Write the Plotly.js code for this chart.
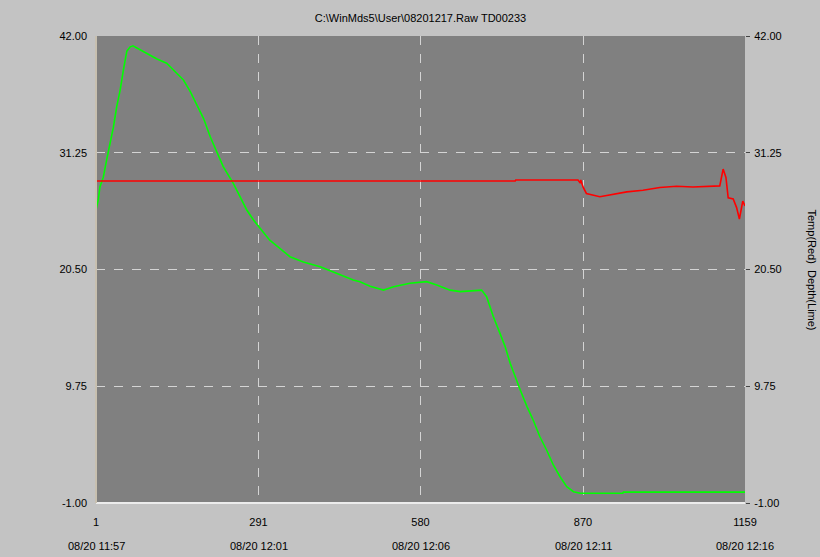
<!DOCTYPE html>
<html>
<head>
<meta charset="utf-8">
<script src="https://cdn.plot.ly/plotly-3.0.1.min.js"></script>
<style>html,body{margin:0;padding:0;background:#c3c3c3;}#chart{width:820px;height:557px;}</style>
</head>
<body>
<div id="chart"></div>
<script>
// Depth (lime) series: sample index and value
const depthIdx = [1,5,8,14,20,26,32,38,44,50,56,62,67,74,91,109,127,145,157,169,182,193,205,216,228,246,258,270,282,294,311,329,347,371,401,430,460,472,490,514,532,561,591,609,633,651,674,689,698,710,722,731,740,749,758,770,781,793,805,817,829,841,853,865,900,941,942,1000,1040,1080,1120,1159];
const depthVal = [26.0,26.9,28.1,29.0,30.6,32.1,33.6,35.5,37.0,38.9,40.6,41.0,41.1,40.9,40.4,39.9,39.5,38.6,37.95,36.9,35.6,34.4,32.7,31.35,29.97,28.44,27.2,25.98,25.06,24.3,23.2,22.45,21.68,21.2,20.76,20.15,19.53,19.38,18.95,18.6,18.92,19.23,19.38,19.07,18.6,18.46,18.55,18.6,18.0,16.15,14.6,13.4,11.86,10.6,9.4,7.87,6.64,5.1,3.88,2.5,1.42,0.5,0.04,-0.1,-0.1,-0.1,0.0,0.0,0.0,0.0,0.0,0.0];

// Temperature (red) series
const tempIdx = [1,749,750,861,865,866,870,876,900,918,936,948,977,1007,1037,1066,1114,1120,1125,1129,1138,1144,1149,1155,1159];
const tempVal = [28.65,28.65,28.74,28.74,28.45,28.74,28.1,27.5,27.2,27.35,27.5,27.65,27.8,28.05,28.17,28.1,28.2,29.75,28.98,27.1,27.0,26.2,25.15,26.8,26.35];

// Axis ticks
const yTicks = [-1, 9.75, 20.5, 31.25, 42];
const yTickText = ["-1.00", "9.75", "20.50", "31.25", "42.00"];
const xTicks = [1, 291, 580, 870, 1159];
const xTickText = ["1", "291", "580", "870", "1159"];
const xDateText = ["08/20 11:57", "08/20 12:01", "08/20 12:06", "08/20 12:11", "08/20 12:16"];

const titleText = "C:\\WinMds5\\User\\08201217.Raw TD00233";
const rightTitle = "Temp(Red)\u00a0\u00a0Depth(Lime)";

const font = {family: "Liberation Sans, Arial, sans-serif", size: 11, color: "#000"};

const traces = [
  {x: depthIdx, y: depthVal, type: "scatter", mode: "lines", line: {color: "#00ff00", width: 1.6}, yaxis: "y", hoverinfo: "skip"},
  {x: tempIdx, y: tempVal, type: "scatter", mode: "lines", line: {color: "#ff0000", width: 1.6}, yaxis: "y2", hoverinfo: "skip"}
];

const annotations = xTicks.map((v, i) => ({
  x: v, xref: "x", y: -0.092, yref: "paper", yanchor: "middle",
  text: xDateText[i], showarrow: false, font: font
}));
annotations.push({
  x: 1, xref: "paper", xshift: 75, y: 0.5, yref: "paper",
  text: rightTitle, textangle: 90, showarrow: false, font: font
});

const gridStyle = {showgrid: true, gridcolor: "#d4d4d4", griddash: "dash", gridwidth: 1};

const layout = {
  width: 820, height: 557,
  margin: {l: 96, r: 75, t: 36, b: 54},
  paper_bgcolor: "#c3c3c3",
  plot_bgcolor: "#808080",
  showlegend: false,
  font: font,
  title: {text: titleText, font: font, x: 0.5, xref: "paper", y: 0.968, yref: "container", yanchor: "middle"},
  xaxis: Object.assign({
    range: [1, 1159], tickmode: "array", tickvals: xTicks, ticktext: xTickText,
    ticks: "", ticklabelstandoff: 11, zeroline: false, showline: false, fixedrange: true
  }, gridStyle),
  yaxis: Object.assign({
    range: [-1, 42], tickmode: "array", tickvals: yTicks, ticktext: yTickText,
    ticks: "", ticklabelstandoff: 8, zeroline: false, showline: false
  }, gridStyle),
  yaxis2: {
    range: [-1, 42], tickmode: "array", tickvals: yTicks, ticktext: yTickText,
    overlaying: "y", side: "right", ticks: "outside", ticklen: 4, tickcolor: "#444",
    ticklabelstandoff: 2, showgrid: false, zeroline: false, showline: false
  },
  shapes: [
    {type: "line", xref: "paper", yref: "paper", x0: 0, x1: 1, y0: 0, y1: 0, line: {color: "#ececec", width: 2}},
    {type: "line", xref: "paper", yref: "paper", x0: 0, x1: 0, y0: 0, y1: 1, line: {color: "#c8c0b0", width: 2}}
  ],
  annotations: annotations
};

Plotly.newPlot("chart", traces, layout, {staticPlot: true, displayModeBar: false});
</script>
</body>
</html>
